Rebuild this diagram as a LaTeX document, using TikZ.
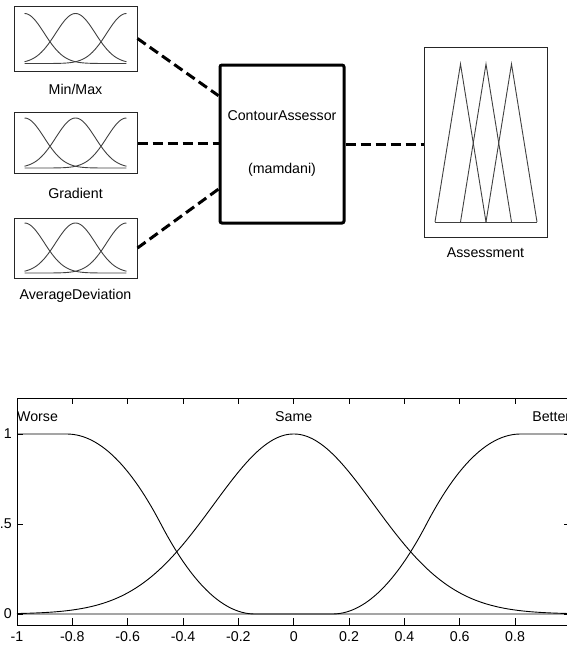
\documentclass[tikz,border=0pt]{standalone}
\usepackage{fontspec}
\setmainfont{Liberation Sans}
\usetikzlibrary{positioning,calc}

\tikzset{
    mfbox/.style={draw=black!85, line width=1pt, minimum width=123pt, inner sep=0pt},
    enginebox/.style={draw=black, line width=3pt, rounded corners=2pt, minimum width=124pt, minimum height=158pt, align=center, font=\fontsize{14.2}{16}\selectfont},
    outbox/.style={draw=black!85, line width=1pt, minimum width=123pt, minimum height=190pt},
    conn/.style={line width=3pt, dash pattern=on 10pt off 5pt},
    mfline/.style={black!75, line width=0.9pt},
    plotline/.style={black, line width=0.9pt},
    lbl/.style={font=\fontsize{14.2}{16}\selectfont, inner sep=0pt},
}

\newcommand{\mficon}[1]{%
    \begin{scope}[shift={(#1.center)}]
        \foreach \c in {-1,0,1}
            \draw[mfline] plot[domain=-1:1, samples=61, smooth] ({51*\x}, {25-50*exp(-1*(\x-(\c))*(\x-(\c))/0.3)});
    \end{scope}}

\begin{document}
\begin{tikzpicture}[x=1pt, y=-1pt]
    \useasboundingbox (0,0) rectangle (566,646);

    % inputs
    \node[mfbox, minimum height=65pt] (minmax) at (75.5,38.5) {};
    \node[mfbox, minimum height=61pt] (gradient) at (75.5,143) {};
    \node[mfbox, minimum height=60pt] (avgdev) at (75.5,248) {};
    \mficon{minmax}
    \mficon{gradient}
    \mficon{avgdev}

    \node[lbl] (minmaxlbl) at (75.5,89) {Min/Max};
    \node[lbl] (gradientlbl) at (75.5,193) {Gradient};
    \node[lbl] (avgdevlbl) at (75.5,296) {AverageDeviation};

    % inference system
    \node[enginebox] (engine) at (282,144) {ContourAssessor\\[37pt](mamdani)};

    % output
    \node[outbox] (assess) at (485.5,142) {};
    \node[lbl] (assesslbl) at (485.5,253) {Assessment};
    \foreach \p in {460.5,486,511.5}
        \draw[mfline] (\p-25.5,222) -- (\p,64) -- (\p+25.5,222);
    \draw[mfline] (435,222) -- (537,222);

    % connections
    \draw[conn] (minmax.east) -- ($(engine.north west)!0.2!(engine.south west)$);
    \draw[conn] (gradient.east) -- (gradient.east -| engine.west);
    \draw[conn] (avgdev.east) -- ($(engine.north west)!0.78!(engine.south west)$);
    \draw[conn] (engine.east) -- (engine.east -| assess.west);

    % membership function plot
    \begin{scope}[shift={(293.7,614)}, x=276.7pt, y=180pt]
        \draw[line width=0.9pt] (-1,-0.065) rectangle (1,1.2);
        \foreach \t [count=\i] in {-1,-0.8,-0.6,-0.4,-0.2,0,0.2,0.4,0.6,0.8} {
            \draw[line width=0.9pt] (\t,-0.065) -- ++(0pt,8pt);
            \draw[line width=0.9pt] (\t,1.2) -- ++(0pt,-6pt);
            \node[lbl] (xtick\i) at (\t,-0.128) {\t};
        }
        \foreach \v/\txt [count=\i] in {0/0,0.5/.5,1/1} {
            \draw[line width=0.9pt] (-1,\v) -- ++(6pt,0pt);
            \draw[line width=0.9pt] (1,\v) -- ++(-6pt,0pt);
            \node[lbl, anchor=east] (ytick\i) at (-1,\v) [xshift=-5pt] {\txt};
        }

        \node[lbl, anchor=west] (worse) at (-1,1.094) {Worse};
        \node[lbl] (same) at (0,1.094) {Same};
        \node[lbl, anchor=east] (better) at (1,1.094) {Better};

        \draw[plotline] (-1,1) -- (-0.82,1)
            -- plot[domain=-0.82:-0.48, samples=30] (\x, {1-2*(\x+0.82)*(\x+0.82)/0.4624})
            -- plot[domain=-0.48:-0.14, samples=30] (\x, {2*(\x+0.14)*(\x+0.14)/0.4624})
            -- (1,0);
        \draw[plotline] plot[domain=-1:1, samples=121, smooth] (\x, {exp(-1*(\x)*(\x)/0.1682)});
        \draw[plotline] (-1,0) -- (0.14,0)
            -- plot[domain=0.14:0.48, samples=30] (\x, {2*(\x-0.14)*(\x-0.14)/0.4624})
            -- plot[domain=0.48:0.82, samples=30] (\x, {1-2*(\x-0.82)*(\x-0.82)/0.4624})
            -- (1,1);
    \end{scope}
\end{tikzpicture}
\end{document}
